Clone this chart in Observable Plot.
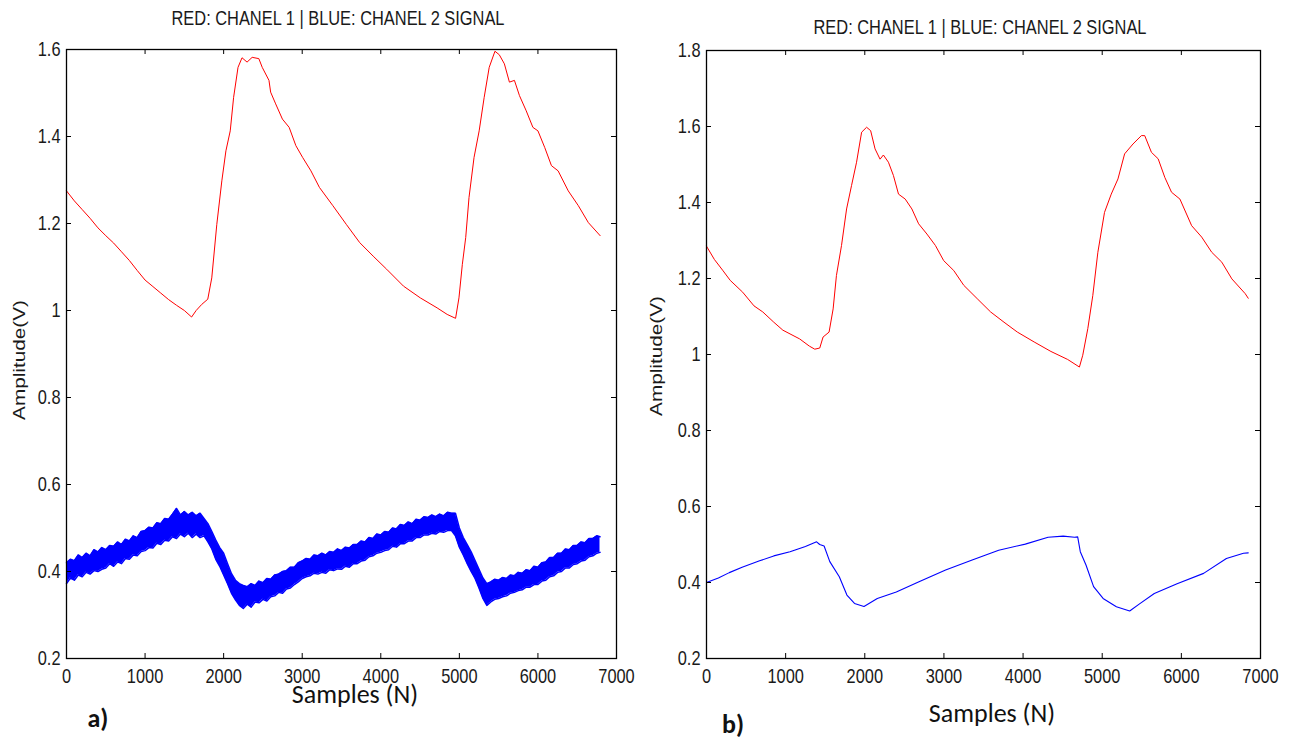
<!DOCTYPE html>
<html>
<head>
<meta charset="utf-8">
<script src="https://cdn.jsdelivr.net/npm/d3@7"></script>
<script src="https://cdn.jsdelivr.net/npm/@observablehq/plot@0.6"></script>
<style>
  body { margin: 0; background: #fff; }
  #wrap { position: relative; width: 1301px; height: 740px; overflow: hidden; background: #fff; }
  #wrap svg { position: absolute; top: 0; overflow: visible; }
  .title { position: absolute; transform: translate(-50%, -50%) scaleX(0.82); white-space: nowrap;
           font-family: "Liberation Sans Narrow", "Arial Narrow", "Liberation Sans", sans-serif;
           font-size: 20px; color: #1a1a1a; }
  .ylab { position: absolute; transform: translate(-50%, -50%) rotate(-90deg) scale(1.22, 1); white-space: nowrap;
          font-family: "Liberation Sans", Arial, sans-serif; font-size: 17px; line-height: 1; color: #1a1a1a; }
  .xlab { position: absolute; transform: translate(-50%, -50%); white-space: nowrap;
          font-family: Carlito, Calibri, Lato, "Open Sans", sans-serif; font-size: 26px; line-height: 1; color: #111; }
  .tag { position: absolute; transform: translate(-50%, -50%); white-space: nowrap;
         font-family: Carlito, Calibri, Lato, "Open Sans", sans-serif; font-size: 26px; line-height: 1; font-weight: bold; color: #111; }
</style>
</head>
<body>
<div id="wrap"></div>
<script>
// ---------- shared axis ticks ----------
const xTicks = [0, 1000, 2000, 3000, 4000, 5000, 6000, 7000];
const yTicksA = [0.2, 0.4, 0.6, 0.8, 1, 1.2, 1.4, 1.6];
const yTicksB = [0.2, 0.4, 0.6, 0.8, 1, 1.2, 1.4, 1.6, 1.8];

// ---------- panel a) channel 1 (red) ----------
const redA_n = [0, 100, 200, 300, 400, 500, 600, 700, 800, 900, 1000, 1100, 1200, 1300, 1400, 1500, 1592, 1650, 1721, 1798,
  1849, 1913, 1977, 2029, 2084, 2127, 2183, 2234, 2298, 2363, 2448, 2491, 2577, 2598, 2662, 2748, 2834, 2919, 3005, 3111,
  3219, 3390, 3561, 3732, 3903, 4074, 4289, 4503, 4717, 4845, 4952, 4995, 5038, 5081, 5123, 5187, 5252, 5316, 5380, 5453,
  5508, 5573, 5637, 5701, 5765, 5851, 5936, 6000, 6086, 6172, 6257, 6386, 6514, 6642, 6792];
const redA_v = [1.275, 1.252, 1.232, 1.212, 1.19, 1.172, 1.155, 1.135, 1.115, 1.092, 1.07, 1.055, 1.04, 1.025, 1.012, 1.0, 0.985, 1.0, 1.014, 1.026,
  1.075, 1.198, 1.298, 1.367, 1.413, 1.49, 1.559, 1.581, 1.571, 1.582, 1.579, 1.559, 1.529, 1.502, 1.475, 1.44, 1.421, 1.379, 1.352, 1.321,
  1.283, 1.241, 1.198, 1.156, 1.125, 1.095, 1.056, 1.029, 1.006, 0.991, 0.982, 1.029, 1.106, 1.168, 1.26, 1.352, 1.413, 1.49, 1.559, 1.596,
  1.588, 1.567, 1.525, 1.529, 1.494, 1.459, 1.421, 1.413, 1.375, 1.333, 1.321, 1.275, 1.241, 1.202, 1.172];

// ---------- panel a) channel 2 (blue, noisy: lower / upper envelope of the trace) ----------
const blueA_n = [0, 50, 100, 150, 200, 250, 300, 350, 400, 450, 500, 550, 600, 650, 700, 750, 800, 850, 900, 950,
  1000, 1050, 1100, 1150, 1200, 1250, 1300, 1350, 1400, 1450, 1500, 1550, 1600, 1650, 1700, 1750, 1800, 1850, 1900, 1950,
  2000, 2050, 2100, 2150, 2200, 2250, 2300, 2350, 2400, 2450, 2500, 2550, 2600, 2650, 2700, 2750, 2800, 2850, 2900, 2950,
  3000, 3050, 3100, 3150, 3200, 3250, 3300, 3350, 3400, 3450, 3500, 3550, 3600, 3650, 3700, 3750, 3800, 3850, 3900, 3950,
  4000, 4050, 4100, 4150, 4200, 4250, 4300, 4350, 4400, 4450, 4500, 4550, 4600, 4650, 4700, 4750, 4800, 4850, 4900, 4950,
  5000, 5050, 5100, 5150, 5200, 5250, 5300, 5350, 5400, 5450, 5500, 5550, 5600, 5650, 5700, 5750, 5800, 5850, 5900, 5950,
  6000, 6050, 6100, 6150, 6200, 6250, 6300, 6350, 6400, 6450, 6500, 6550, 6600, 6650, 6700, 6750, 6790];
const blueA_lo = [0.372, 0.385, 0.380, 0.392, 0.388, 0.398, 0.394, 0.402, 0.400, 0.405, 0.408, 0.418, 0.412, 0.422, 0.418, 0.430, 0.428, 0.438, 0.436, 0.446,
  0.448, 0.455, 0.454, 0.465, 0.462, 0.472, 0.470, 0.480, 0.476, 0.486, 0.480, 0.488, 0.478, 0.486, 0.478, 0.482, 0.468, 0.452, 0.428, 0.412,
  0.392, 0.372, 0.350, 0.335, 0.322, 0.315, 0.325, 0.318, 0.330, 0.328, 0.336, 0.332, 0.342, 0.344, 0.352, 0.350, 0.360, 0.362, 0.370, 0.376,
  0.384, 0.388, 0.390, 0.396, 0.394, 0.398, 0.396, 0.404, 0.402, 0.406, 0.405, 0.412, 0.410, 0.418, 0.418, 0.424, 0.426, 0.434, 0.436, 0.442,
  0.444, 0.448, 0.450, 0.458, 0.456, 0.464, 0.464, 0.470, 0.470, 0.478, 0.478, 0.484, 0.484, 0.488, 0.486, 0.492, 0.490, 0.494, 0.494, 0.482,
  0.456, 0.438, 0.418, 0.400, 0.384, 0.362, 0.338, 0.322, 0.330, 0.336, 0.338, 0.342, 0.344, 0.350, 0.352, 0.356, 0.358, 0.364, 0.364, 0.370,
  0.370, 0.378, 0.380, 0.388, 0.390, 0.398, 0.400, 0.408, 0.408, 0.416, 0.418, 0.424, 0.426, 0.434, 0.436, 0.442, 0.444];
const blueA_hi = [0.420, 0.428, 0.425, 0.438, 0.432, 0.442, 0.436, 0.450, 0.445, 0.455, 0.450, 0.460, 0.458, 0.468, 0.462, 0.474, 0.470, 0.482, 0.478, 0.492,
  0.494, 0.502, 0.500, 0.512, 0.510, 0.522, 0.520, 0.532, 0.545, 0.530, 0.538, 0.530, 0.536, 0.528, 0.534, 0.522, 0.510, 0.492, 0.472, 0.455,
  0.442, 0.418, 0.395, 0.380, 0.372, 0.368, 0.365, 0.372, 0.368, 0.378, 0.374, 0.384, 0.382, 0.392, 0.394, 0.400, 0.402, 0.410, 0.410, 0.420,
  0.424, 0.430, 0.428, 0.438, 0.436, 0.442, 0.438, 0.446, 0.444, 0.452, 0.448, 0.456, 0.454, 0.462, 0.462, 0.470, 0.468, 0.478, 0.476, 0.486,
  0.484, 0.492, 0.490, 0.500, 0.498, 0.508, 0.506, 0.514, 0.510, 0.520, 0.518, 0.526, 0.524, 0.530, 0.526, 0.532, 0.528, 0.536, 0.534, 0.534,
  0.500, 0.478, 0.462, 0.445, 0.425, 0.405, 0.385, 0.372, 0.376, 0.382, 0.380, 0.386, 0.384, 0.392, 0.390, 0.398, 0.396, 0.404, 0.402, 0.412,
  0.410, 0.420, 0.422, 0.432, 0.432, 0.442, 0.442, 0.452, 0.450, 0.460, 0.460, 0.468, 0.466, 0.476, 0.476, 0.482, 0.480];

// ---------- panel b) channel 1 (red) ----------
const redB_n = [0, 100, 203, 300, 457, 600, 711, 850, 965, 1177, 1300, 1368, 1431, 1473, 1549, 1600, 1642, 1706, 1770, 1833,
  1896, 1960, 2023, 2074, 2130, 2193, 2235, 2299, 2362, 2426, 2511, 2595, 2680, 2785, 2892, 2997, 3124, 3251, 3420, 3590,
  3759, 3928, 4140, 4352, 4563, 4712, 4754, 4818, 4881, 4945, 5029, 5114, 5199, 5283, 5389, 5495, 5537, 5622, 5707, 5791,
  5876, 5982, 6130, 6257, 6384, 6511, 6638, 6807, 6845];
const redB_v = [1.285, 1.25, 1.222, 1.195, 1.164, 1.128, 1.112, 1.085, 1.064, 1.041, 1.022, 1.014, 1.017, 1.046, 1.059, 1.12, 1.208, 1.287, 1.383, 1.445,
  1.506, 1.585, 1.598, 1.589, 1.541, 1.514, 1.525, 1.506, 1.471, 1.422, 1.409, 1.383, 1.344, 1.317, 1.287, 1.247, 1.221, 1.182, 1.147, 1.112,
  1.085, 1.059, 1.033, 1.008, 0.987, 0.967, 0.998, 1.068, 1.155, 1.269, 1.374, 1.422, 1.462, 1.528, 1.554, 1.576, 1.576, 1.532, 1.515, 1.466,
  1.427, 1.409, 1.339, 1.309, 1.269, 1.243, 1.199, 1.16, 1.148];

// ---------- panel b) channel 2 (blue) ----------
const blueB_n = [0, 150, 288, 450, 671, 850, 1055, 1250, 1391, 1430, 1486, 1558, 1678, 1774, 1870, 1990, 2158, 2398, 2685, 3021,
  3357, 3692, 4028, 4316, 4507, 4651, 4690, 4723, 4795, 4891, 5011, 5179, 5347, 5467, 5658, 5946, 6281, 6569, 6785, 6845];
const blueB_v = [0.400, 0.412, 0.426, 0.440, 0.457, 0.470, 0.481, 0.495, 0.507, 0.500, 0.496, 0.455, 0.415, 0.367, 0.345, 0.337, 0.358, 0.375, 0.402, 0.433,
  0.459, 0.485, 0.501, 0.519, 0.522, 0.519, 0.520, 0.481, 0.446, 0.389, 0.358, 0.336, 0.325, 0.343, 0.371, 0.397, 0.424, 0.463, 0.477, 0.478];

const RED = "#ff0000", BLUE = "#0000ff";
const tickFont = `"Liberation Sans Narrow", "Arial Narrow", "Liberation Sans", sans-serif`;
const wrap = document.getElementById("wrap");

function zipXY(n, v) { return n.map((d, i) => ({n: d, v: v[i]})); }

function drawPanel({left, width, height, mL, mR, mT, mB, yDomain, yTicks, marks}) {
  const innerW = width - mL - mR, innerH = height - mT - mB, t = 5;
  const svg = Plot.plot({
    width, height,
    marginLeft: mL, marginRight: mR, marginTop: mT, marginBottom: mB,
    style: {fontFamily: tickFont, fontSize: "20px", color: "#1a1a1a", background: "transparent"},
    x: {domain: [0, 7000], nice: false},
    y: {domain: yDomain, nice: false},
    marks: [
      ...marks,
      // inward tick marks on all four sides
      Plot.tickX(xTicks, {x: d => d, stroke: "#000", insetTop: innerH - t}),
      Plot.tickX(xTicks, {x: d => d, stroke: "#000", insetBottom: innerH - t}),
      Plot.tickY(yTicks, {y: d => d, stroke: "#000", insetRight: innerW - t}),
      Plot.tickY(yTicks, {y: d => d, stroke: "#000", insetLeft: innerW - t}),
      Plot.axisX({ticks: xTicks, tickSize: 0, tickPadding: 10, tickFormat: d => String(d), label: null}),
      Plot.axisY({ticks: yTicks, tickSize: 0, tickPadding: 6, tickFormat: d => String(d), label: null}),
      Plot.frame({stroke: "#000", strokeWidth: 1.3})
    ]
  });
  // condensed tick lettering: squeeze each label horizontally about its anchor
  svg.querySelectorAll('g[aria-label$="tick label"] text').forEach(el => {
    const tr = el.getAttribute("transform") || "";
    if (el.hasAttribute("x")) {
      const x = el.getAttribute("x");
      el.setAttribute("x", 0);
      el.setAttribute("transform", `${tr} translate(${x},0) scale(0.82,1)`);
    } else {
      el.setAttribute("transform", `${tr} scale(0.82,1)`);
    }
  });
  svg.style.left = left + "px";
  wrap.appendChild(svg);
}

// panel a)
drawPanel({
  left: 0, width: 650, height: 700, mL: 66, mR: 34, mT: 49, mB: 42,
  yDomain: [0.2, 1.6], yTicks: yTicksA,
  marks: [
    Plot.areaY(blueA_n.map((d, i) => ({n: d, lo: blueA_lo[i], hi: blueA_hi[i]})),
      {x: "n", y1: "lo", y2: "hi", fill: BLUE}),
    Plot.lineY(zipXY(blueA_n, blueA_lo), {x: "n", y: "v", stroke: BLUE, strokeWidth: 1.5}),
    Plot.lineY(zipXY(blueA_n, blueA_hi), {x: "n", y: "v", stroke: BLUE, strokeWidth: 1.5}),
    Plot.lineY(zipXY(redA_n, redA_v), {x: "n", y: "v", stroke: RED, strokeWidth: 1})
  ]
});

// panel b)
drawPanel({
  left: 650, width: 651, height: 700, mL: 56, mR: 41, mT: 50, mB: 42,
  yDomain: [0.2, 1.8], yTicks: yTicksB,
  marks: [
    Plot.lineY(zipXY(blueB_n, blueB_v), {x: "n", y: "v", stroke: BLUE, strokeWidth: 1.1}),
    Plot.lineY(zipXY(redB_n, redB_v), {x: "n", y: "v", stroke: RED, strokeWidth: 1})
  ]
});

// titles, axis labels and panel tags
const labels = [
  ["title", "RED: CHANEL 1 | BLUE: CHANEL 2 SIGNAL", 338, 18],
  ["title", "RED: CHANEL 1 | BLUE: CHANEL 2 SIGNAL", 980, 27],
  ["ylab", "Amplitude(V)", 19, 360],
  ["ylab", "Amplitude(V)", 656, 356],
  ["xlab", "Samples (N)", 355, 694],
  ["xlab", "Samples (N)", 992, 713],
  ["tag", "a)", 98, 718],
  ["tag", "b)", 733, 724]
];
for (const [cls, text, x, y] of labels) {
  const el = document.createElement("div");
  el.className = cls;
  el.textContent = text;
  el.style.left = x + "px";
  el.style.top = y + "px";
  wrap.appendChild(el);
}
</script>
</body>
</html>
